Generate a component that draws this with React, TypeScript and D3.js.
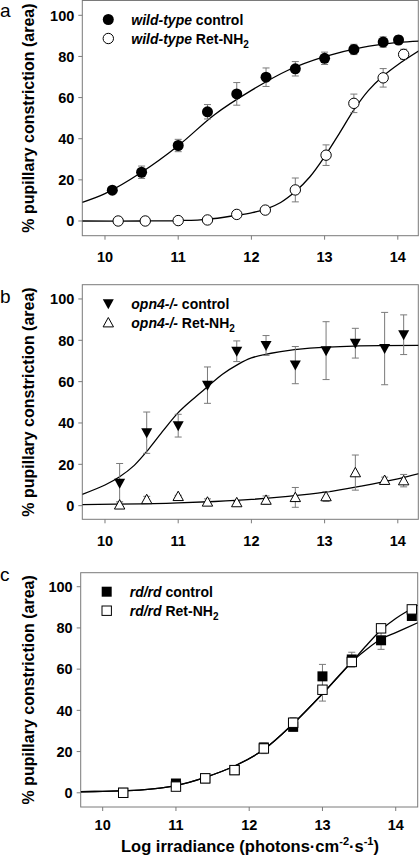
import React from "react";
import * as d3 from "d3";

const xTicks = [10, 11, 12, 13, 14];
const yTicks = [0, 20, 40, 60, 80, 100];

// ---------- Panel a : wild-type ----------
const aCtrlX = [10.1, 10.5, 11.0, 11.4, 11.8, 12.2, 12.6, 13.0, 13.4, 13.8, 14.01];
const aCtrlY = [15, 23.7, 36.7, 53.1, 61.8, 69.9, 74, 79.1, 83.4, 87, 88];
const aCtrlE = [1.2, 3, 3, 3.5, 5.5, 4.5, 3.5, 3, 2.5, 2.5, 2];
const aRetX = [10.18, 10.55, 11.0, 11.4, 11.8, 12.19, 12.6, 13.02, 13.4, 13.8, 14.08];
const aRetY = [0, 0, 0.2, 0.5, 3.2, 5.3, 15.1, 32, 57.2, 69.6, 81];
const aRetE = [0.5, 0.5, 0.5, 0.5, 1, 1, 5.8, 5, 4.5, 4.5, 2.5];
const aCtrlFitX = [9.69, 10, 10.5, 11, 11.5, 12, 12.5, 13, 13.5, 14, 14.3];
const aCtrlFitY = [9.1, 13.3, 23.7, 36.6, 51.8, 63.5, 73.3, 79.9, 84.3, 86.8, 87.5];
const aRetFitX = [9.69, 10.5, 11, 11.4, 11.8, 12, 12.2, 12.4, 12.6, 12.8, 13, 13.2, 13.4, 13.6, 13.8, 14, 14.3];
const aRetFitY = [0, 0, 0.2, 0.8, 2.8, 4, 5.8, 9, 14.3, 21.5, 31.3, 42.5, 54, 63.5, 70.5, 76, 83];

// ---------- Panel b : opn4-/- ----------
const bX = [10.2, 10.57, 11.0, 11.4, 11.8, 12.2, 12.6, 13.02, 13.42, 13.82, 14.08];
const bCtrlY = [10.8, 35.3, 38.7, 58.3, 74.7, 77.5, 68, 75, 78.6, 76, 82.7];
const bCtrlE = [9.6, 10, 5.5, 8.8, 5, 4.8, 9, 14, 7.2, 17.5, 9.6];
const bRetY = [0.4, 3, 4.5, 1.8, 1.5, 2.7, 4, 4.4, 16, 12.3, 12.1];
const bRetE = [1.5, 1.5, 0.5, 1.5, 0.5, 2, 4.8, 2.4, 8.5, 1.5, 3];
const bCtrlFitX = [9.69, 10, 10.2, 10.4, 10.6, 10.8, 11, 11.2, 11.4, 11.6, 11.8, 12, 12.4, 12.8, 13.4, 14.3];
const bCtrlFitY = [5.5, 10, 14, 19.5, 27.5, 36.5, 45, 51.5, 57.5, 63.5, 68, 71.5, 74.5, 76.2, 77.2, 77.5];
const bRetFitX = [9.69, 10.5, 11, 11.5, 12, 12.5, 13, 13.5, 14, 14.3];
const bRetFitY = [0.5, 0.9, 1.3, 2, 3, 4.5, 6.5, 9.5, 13, 15.6];

// ---------- Panel c : rd/rd ----------
const cX = [10.28, 11.0, 11.4, 11.8, 12.2, 12.6, 13.0, 13.4, 13.8, 14.22];
const cCtrlY = [0, 4.5, 7, 11, 22, 32, 56.5, 64.7, 74, 85.8];
const cCtrlE = [0.5, 1, 1, 1, 2, 2, 5.8, 3.5, 4.4, 1.5];
const cRetY = [0, 3, 7, 11, 21.5, 34, 50, 63.5, 79.8, 89];
const cRetE = [0.5, 1, 1, 1, 2.5, 2.5, 5.5, 2.5, 1.5, 1];
const cCtrlFitX = [9.7, 10, 10.5, 11, 11.4, 11.8, 12.2, 12.6, 13.0, 13.4, 13.6, 13.8, 14.0, 14.3];
const cCtrlFitY = [0.5, 0.7, 1.3, 3.5, 7.5, 13, 21, 33.5, 48, 63.5, 69.5, 74.6, 77.7, 82.5];
const cRetFitX = [9.7, 10, 10.5, 11, 11.4, 11.8, 12.2, 12.6, 13.0, 13.4, 13.6, 13.8, 14.0, 14.3];
const cRetFitY = [0.5, 0.7, 1.3, 3.5, 7.5, 13, 21, 33.5, 48, 63.5, 71.5, 79, 84.6, 91];

const FONT = "'Liberation Sans', Arial, Helvetica, sans-serif";
const FRAME = "#7a7a7a";
const ERR = "#7a7a7a";

type Marker = "circleFilled" | "circleOpen" | "triDown" | "triUpOpen" | "squareFilled" | "squareOpen";

function MarkerShape({ kind, x, y }: { kind: Marker; x: number; y: number }) {
  switch (kind) {
    case "circleFilled":
      return <circle cx={x} cy={y} r={5.5} fill="#000" />;
    case "circleOpen":
      return <circle cx={x} cy={y} r={5.2} fill="#fff" stroke="#000" strokeWidth={1} />;
    case "triDown":
      return <path d={`M${x - 5.5},${y - 4.5}L${x + 5.5},${y - 4.5}L${x},${y + 5.5}Z`} fill="#000" />;
    case "triUpOpen":
      return (
        <path
          d={`M${x - 5.2},${y + 4.2}L${x + 5.2},${y + 4.2}L${x},${y - 5.2}Z`}
          fill="#fff"
          stroke="#000"
          strokeWidth={1}
        />
      );
    case "squareFilled":
      return <rect x={x - 5} y={y - 5} width={10} height={10} fill="#000" />;
    case "squareOpen":
      return <rect x={x - 4.7} y={y - 4.7} width={9.4} height={9.4} fill="#fff" stroke="#000" strokeWidth={1} />;
  }
}

interface Series {
  xs: number[];
  ys: number[];
  es: number[];
  marker: Marker;
  fitX: number[];
  fitY: number[];
  label: string;
  labelSuffix: string;
  sub?: string;
}

interface PanelProps {
  id: string;
  letter: string;
  left: number;
  right: number;
  top: number;
  bottom: number;
  xDomain: [number, number];
  yDomain: [number, number];
  series: Series[];
  tickGap: number;
  letterY: number;
}

function Panel(p: PanelProps) {
  const x = d3.scaleLinear().domain(p.xDomain).range([p.left, p.right]);
  const y = d3.scaleLinear().domain(p.yDomain).range([p.bottom, p.top]);
  const line = d3
    .line<[number, number]>()
    .x((d) => x(d[0]))
    .y((d) => y(d[1]))
    .curve(d3.curveCatmullRom.alpha(0.5));
  const clipId = `clip-${p.id}`;
  const midY = (p.top + p.bottom) / 2;
  return (
    <g>
      <defs>
        <clipPath id={clipId}>
          <rect x={p.left} y={p.top} width={p.right - p.left} height={p.bottom - p.top} />
        </clipPath>
      </defs>
      <text x={0} y={p.letterY} fontSize={19} fontFamily={FONT} fill="#000">
        {p.letter}
      </text>
      <text
        transform={`translate(34,${midY}) rotate(-90)`}
        textAnchor="middle"
        fontSize={16}
        fontWeight="bold"
        fontFamily={FONT}
      >
        % pupillary constriction (area)
      </text>
      {/* frame */}
      <rect
        x={p.left}
        y={p.top}
        width={p.right - p.left}
        height={p.bottom - p.top}
        fill="none"
        stroke={FRAME}
        strokeWidth={1}
      />
      {/* y ticks */}
      {yTicks.map((t) => (
        <g key={`y${t}`}>
          <line x1={p.left - 4} x2={p.left} y1={y(t)} y2={y(t)} stroke={FRAME} />
          <text
            x={p.left - 8}
            y={y(t)}
            dy="0.36em"
            textAnchor="end"
            fontSize={14.5}
            fontWeight="bold"
            fontFamily={FONT}
          >
            {t}
          </text>
        </g>
      ))}
      {/* x ticks */}
      {xTicks.map((t) => (
        <g key={`x${t}`}>
          <line x1={x(t)} x2={x(t)} y1={p.bottom} y2={p.bottom + 4} stroke={FRAME} />
          <text
            x={x(t)}
            y={p.bottom + p.tickGap}
            textAnchor="middle"
            fontSize={14.5}
            fontWeight="bold"
            fontFamily={FONT}
          >
            {t}
          </text>
        </g>
      ))}
      {/* fits */}
      <g clipPath={`url(#${clipId})`}>
        {p.series.map((s, i) => (
          <path
            key={`fit${i}`}
            d={line(s.fitX.map((v, j) => [v, s.fitY[j]] as [number, number])) || ""}
            fill="none"
            stroke="#000"
            strokeWidth={1.3}
          />
        ))}
      </g>
      {/* error bars and markers */}
      {p.series.map((s, i) => (
        <g key={`s${i}`}>
          {s.xs.map((v, j) => {
            const cx = x(v);
            const y1 = y(s.ys[j] + s.es[j]);
            const y2 = y(s.ys[j] - s.es[j]);
            return (
              <g key={j} stroke={ERR} strokeWidth={1}>
                <line x1={cx} x2={cx} y1={y1} y2={y2} />
                <line x1={cx - 3.5} x2={cx + 3.5} y1={y1} y2={y1} />
                <line x1={cx - 3.5} x2={cx + 3.5} y1={y2} y2={y2} />
              </g>
            );
          })}
        </g>
      ))}
      {p.series.map((s, i) => (
        <g key={`m${i}`}>
          {s.xs.map((v, j) => (
            <MarkerShape key={j} kind={s.marker} x={x(v)} y={y(s.ys[j])} />
          ))}
        </g>
      ))}
      {/* legend */}
      {p.series.map((s, i) => {
        const ly = p.top + 19 + i * 19;
        return (
          <g key={`lg${i}`}>
            <MarkerShape kind={s.marker} x={p.left + 26} y={ly} />
            <text
              x={p.left + 49}
              y={ly + 5}
              fontSize={14}
              fontWeight="bold"
              fontFamily={FONT}
            >
              <tspan fontStyle="italic">{s.label}</tspan>
              <tspan>{s.labelSuffix}</tspan>
              {s.sub ? (
                <tspan fontSize={10} dy={4}>
                  {s.sub}
                </tspan>
              ) : null}
            </text>
          </g>
        );
      })}
    </g>
  );
}

export default function App() {
  return (
    <svg
      width={420}
      height={858}
      style={{ position: "absolute", left: 0, top: 0, background: "#fff" }}
      fontFamily={FONT}
    >
      <rect x={0} y={0} width={420} height={858} fill="#fff" />
      <Panel
        id="a"
        letter="a"
        left={82.3}
        right={418.3}
        top={0.5}
        bottom={235.7}
        xDomain={[9.69, 14.28]}
        yDomain={[-7.15, 107.2]}
        tickGap={26.5}
        letterY={17}
        series={[
          {
            xs: aCtrlX, ys: aCtrlY, es: aCtrlE, marker: "circleFilled",
            fitX: aCtrlFitX, fitY: aCtrlFitY, label: "wild-type", labelSuffix: " control",
          },
          {
            xs: aRetX, ys: aRetY, es: aRetE, marker: "circleOpen",
            fitX: aRetFitX, fitY: aRetFitY, label: "wild-type", labelSuffix: " Ret-NH", sub: "2",
          },
        ]}
      />
      <Panel
        id="b"
        letter="b"
        left={82.3}
        right={418.3}
        top={284.7}
        bottom={519.3}
        xDomain={[9.69, 14.28]}
        yDomain={[-6.6, 106.9]}
        tickGap={27}
        letterY={303}
        series={[
          {
            xs: bX, ys: bCtrlY, es: bCtrlE, marker: "triDown",
            fitX: bCtrlFitX, fitY: bCtrlFitY, label: "opn4-/-", labelSuffix: " control",
          },
          {
            xs: bX, ys: bRetY, es: bRetE, marker: "triUpOpen",
            fitX: bRetFitX, fitY: bRetFitY, label: "opn4-/-", labelSuffix: " Ret-NH", sub: "2",
          },
        ]}
      />
      <Panel
        id="c"
        letter="c"
        left={80.7}
        right={417.7}
        top={572.7}
        bottom={807}
        xDomain={[9.7, 14.3]}
        yDomain={[-6.9, 106.8]}
        tickGap={23}
        letterY={581}
        series={[
          {
            xs: cX, ys: cCtrlY, es: cCtrlE, marker: "squareFilled",
            fitX: cCtrlFitX, fitY: cCtrlFitY, label: "rd/rd", labelSuffix: " control",
          },
          {
            xs: cX, ys: cRetY, es: cRetE, marker: "squareOpen",
            fitX: cRetFitX, fitY: cRetFitY, label: "rd/rd", labelSuffix: " Ret-NH", sub: "2",
          },
        ]}
      />
      <text x={250} y={852} textAnchor="middle" fontSize={16.5} fontWeight="bold" fontFamily={FONT}>
        Log irradiance (photons·cm
        <tspan fontSize={11} dy={-7}>-2</tspan>
        <tspan dy={7}>·s</tspan>
        <tspan fontSize={11} dy={-7}>-1</tspan>
        <tspan dy={7}>)</tspan>
      </text>
    </svg>
  );
}
